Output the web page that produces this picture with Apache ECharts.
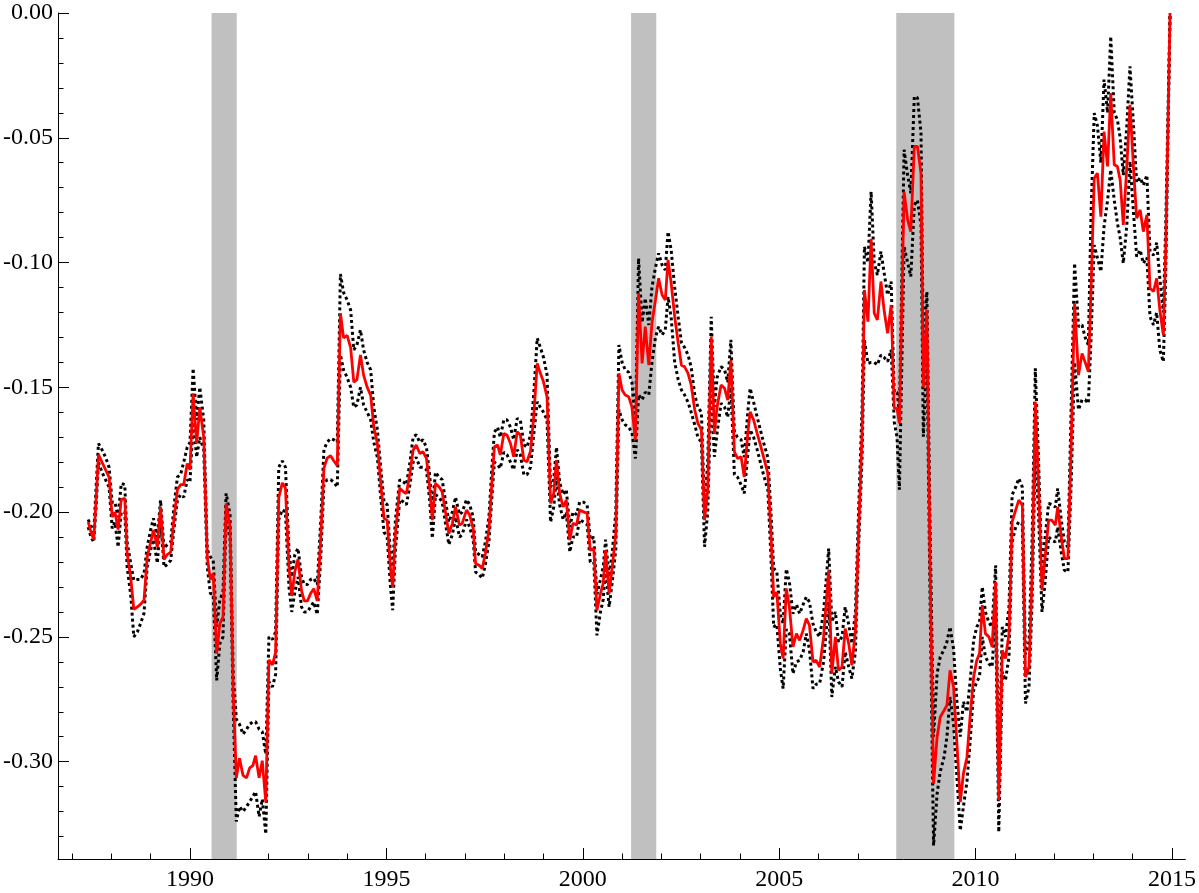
<!DOCTYPE html>
<html>
<head>
<meta charset="utf-8">
<title>chart</title>
<script src="https://cdn.jsdelivr.net/npm/echarts@6/dist/echarts.min.js"></script>
<style>
  html, body { margin: 0; padding: 0; background: #fff; }
  #chart { width: 1199px; height: 893px; }
</style>
</head>
<body>
<div id="chart"></div>
<script>
// decimal years, one row per calendar year
const years = [
  1987.41, 1987.48, 1987.55, 1987.61, 1987.67, 1987.76, 1987.85, 1987.94,
  1988.02, 1988.09, 1988.17, 1988.25, 1988.34, 1988.40, 1988.49, 1988.57, 1988.66, 1988.74, 1988.83, 1988.91,
  1989.00, 1989.07, 1989.17, 1989.25, 1989.34, 1989.42, 1989.51, 1989.59, 1989.68, 1989.76, 1989.84, 1989.93,
  1990.00, 1990.08, 1990.17, 1990.25, 1990.35, 1990.44, 1990.52, 1990.59, 1990.68, 1990.76, 1990.84, 1990.92,
  1991.02, 1991.10, 1991.18, 1991.26, 1991.35, 1991.44, 1991.52, 1991.60, 1991.67, 1991.76, 1991.84, 1991.93,
  1992.01, 1992.10, 1992.18, 1992.26, 1992.35, 1992.43, 1992.52, 1992.59, 1992.67, 1992.75, 1992.84, 1992.91,
  1992.99, 1993.07, 1993.15, 1993.24, 1993.33, 1993.41, 1993.49, 1993.58, 1993.66, 1993.75, 1993.83, 1993.91,
  1994.00, 1994.09, 1994.17, 1994.25, 1994.34, 1994.42, 1994.51, 1994.60, 1994.68, 1994.77, 1994.85, 1994.94,
  1995.02, 1995.10, 1995.16, 1995.23, 1995.34, 1995.44, 1995.51, 1995.60, 1995.68, 1995.76, 1995.85, 1995.93,
  1996.02, 1996.10, 1996.17, 1996.25, 1996.34, 1996.42, 1996.51, 1996.59, 1996.68, 1996.76, 1996.86, 1996.93,
  1997.04, 1997.12, 1997.21, 1997.27, 1997.36, 1997.44, 1997.52, 1997.61, 1997.69, 1997.75, 1997.83, 1997.90,
  1997.99, 1998.07, 1998.16, 1998.24, 1998.33, 1998.41, 1998.50, 1998.58, 1998.67, 1998.75, 1998.84, 1998.92,
  1999.00, 1999.09, 1999.18, 1999.26, 1999.33, 1999.41, 1999.50, 1999.58, 1999.67, 1999.75, 1999.84, 1999.92,
  2000.02, 2000.11, 2000.19, 2000.28, 2000.36, 2000.45, 2000.52, 2000.58, 2000.67, 2000.75, 2000.84, 2000.92,
  2001.00, 2001.08, 2001.17, 2001.25, 2001.34, 2001.42, 2001.51, 2001.59, 2001.68, 2001.76, 2001.85, 2001.93,
  2002.02, 2002.10, 2002.17, 2002.25, 2002.34, 2002.43, 2002.51, 2002.59, 2002.68, 2002.76, 2002.85, 2002.93,
  2003.02, 2003.10, 2003.18, 2003.27, 2003.35, 2003.42, 2003.52, 2003.61, 2003.69, 2003.77, 2003.86, 2003.94,
  2004.03, 2004.11, 2004.20, 2004.26, 2004.35, 2004.44, 2004.52, 2004.60, 2004.71, 2004.79, 2004.86, 2004.94,
  2005.03, 2005.10, 2005.18, 2005.26, 2005.35, 2005.44, 2005.52, 2005.61, 2005.69, 2005.77, 2005.86, 2005.94,
  2006.03, 2006.13, 2006.26, 2006.34, 2006.43, 2006.51, 2006.60, 2006.68, 2006.77, 2006.85, 2006.94,
  2007.02, 2007.11, 2007.17, 2007.26, 2007.34, 2007.42, 2007.50, 2007.59, 2007.67, 2007.76, 2007.85, 2007.93,
  2008.00, 2008.06, 2008.18, 2008.27, 2008.35, 2008.44, 2008.52, 2008.61, 2008.67, 2008.76, 2008.84, 2008.93,
  2009.02, 2009.10, 2009.20, 2009.27, 2009.35, 2009.44, 2009.52, 2009.61, 2009.69, 2009.78, 2009.86, 2009.95,
  2010.03, 2010.10, 2010.17, 2010.25, 2010.34, 2010.42, 2010.51, 2010.59, 2010.68, 2010.76, 2010.85, 2010.93,
  2011.02, 2011.10, 2011.19, 2011.27, 2011.36, 2011.44, 2011.52, 2011.60, 2011.69, 2011.77, 2011.86, 2011.94,
  2012.03, 2012.09, 2012.18, 2012.26, 2012.35, 2012.43, 2012.52, 2012.62, 2012.71, 2012.79, 2012.87, 2012.94,
  2013.02, 2013.10, 2013.19, 2013.27, 2013.36, 2013.44, 2013.53, 2013.61, 2013.68, 2013.76, 2013.85, 2013.93,
  2014.02, 2014.10, 2014.19, 2014.27, 2014.36, 2014.44, 2014.53, 2014.61, 2014.69, 2014.78, 2014.84, 2014.95
]

// red line
const estimate = [
  -0.204, -0.208, -0.211, -0.195, -0.177, -0.180, -0.183, -0.186,
  -0.202, -0.200, -0.207, -0.195, -0.1945, -0.2166, -0.226, -0.239, -0.238, -0.237, -0.2353, -0.218,
  -0.212, -0.2072, -0.214, -0.198, -0.219, -0.217, -0.216, -0.203, -0.191, -0.189, -0.189, -0.1805,
  -0.183, -0.1524, -0.1725, -0.158, -0.170, -0.218, -0.227, -0.2246, -0.2567, -0.2447, -0.242, -0.1965,
  -0.2059, -0.272, -0.3065, -0.2986, -0.3055, -0.3065, -0.3025, -0.3016, -0.2976, -0.3065, -0.2996, -0.3163,
  -0.2592, -0.2612, -0.2562, -0.1942, -0.1883, -0.1903, -0.2218, -0.2336, -0.2238, -0.2188, -0.2316, -0.2356,
  -0.2356, -0.2326, -0.2307, -0.2356, -0.210, -0.1824, -0.1784, -0.1774, -0.1794, -0.1814, -0.1203, -0.1302,
  -0.1292, -0.1341, -0.1479, -0.1469, -0.1370, -0.1451, -0.1499, -0.1531, -0.1658, -0.1725, -0.1872, -0.2025,
  -0.2032, -0.2220, -0.2300, -0.2086, -0.1905, -0.1919, -0.1925, -0.1845, -0.1752, -0.1731, -0.1765, -0.1758,
  -0.1785, -0.1899, -0.2032, -0.1885, -0.1898, -0.1919, -0.2005, -0.2086, -0.2045, -0.1979, -0.2052, -0.2045,
  -0.1992, -0.2012, -0.2066, -0.2206, -0.2213, -0.2226, -0.2166, -0.2072, -0.1872, -0.1738, -0.1731, -0.1771,
  -0.1685, -0.1691, -0.1725, -0.1778, -0.1678, -0.1691, -0.1792, -0.1798, -0.1755, -0.1618, -0.1404, -0.1444,
  -0.1478, -0.1538, -0.1965, -0.1925, -0.1792, -0.1925, -0.1979, -0.1952, -0.2112, -0.2045, -0.2052, -0.1992,
  -0.1999, -0.2005, -0.2153, -0.2146, -0.2393, -0.2326, -0.2286, -0.2153, -0.2326, -0.2220, -0.2086, -0.1444,
  -0.1511, -0.1531, -0.1538, -0.1578, -0.1711, -0.1123, -0.1404, -0.1257, -0.1411, -0.1243, -0.1150, -0.1063,
  -0.1130, -0.1150, -0.0989, -0.1083, -0.1217, -0.1324, -0.1411, -0.1417, -0.1444, -0.1491, -0.1591, -0.1644,
  -0.1671, -0.2032, -0.1912, -0.1297, -0.1685, -0.1578, -0.1491, -0.1504, -0.1551, -0.1391, -0.1758, -0.1785,
  -0.1778, -0.1859, -0.1685, -0.1598, -0.1631, -0.1685, -0.1730, -0.1778, -0.1845, -0.2086, -0.2340, -0.2320,
  -0.2527, -0.2587, -0.2306, -0.2380, -0.2540, -0.2487, -0.2514, -0.2473, -0.2427, -0.2453, -0.2600, -0.2594,
  -0.2621, -0.2500, -0.2233, -0.2647, -0.2500, -0.2634, -0.2621, -0.2467, -0.2527, -0.2614, -0.2473,
  -0.2086, -0.1685, -0.1110, -0.1237, -0.0905, -0.1203, -0.1230, -0.1076, -0.1190, -0.1283, -0.1170, -0.1584,
  -0.1584, -0.1644, -0.0716, -0.0829, -0.0876, -0.0535, -0.0535, -0.0642, -0.150, -0.119, -0.220, -0.3088,
  -0.2901, -0.2821, -0.2794, -0.2774, -0.2634, -0.2701, -0.2915, -0.3162, -0.3048, -0.2982, -0.282, -0.2661,
  -0.2594, -0.2567, -0.2373, -0.2487, -0.2500, -0.2540, -0.2280, -0.3155, -0.2554, -0.2587, -0.2487, -0.2039,
  -0.1992, -0.1952, -0.1972, -0.2661, -0.2621, -0.2246, -0.1558, -0.1872, -0.2313, -0.2179, -0.2032, -0.2032,
  -0.2052, -0.1979, -0.2099, -0.2186, -0.2186, -0.175, -0.1163, -0.1451, -0.1364, -0.140, -0.1437, -0.110,
  -0.0662, -0.0642, -0.0816, -0.0475, -0.0615, -0.0321, -0.0608, -0.0615, -0.0669, -0.0849, -0.0615, -0.0368,
  -0.0622, -0.0822, -0.0789, -0.0876, -0.0809, -0.1103, -0.1116, -0.1063, -0.1190, -0.1290, -0.095, 0.0
]

// upper dotted band
const upperBand = [
  -0.203, -0.206, -0.208, -0.190, -0.1725, -0.175, -0.178, -0.182,
  -0.196, -0.196, -0.202, -0.1885, -0.189, -0.212, -0.2205, -0.2273, -0.227, -0.227, -0.2246, -0.214,
  -0.207, -0.2025, -0.210, -0.1952, -0.2146, -0.213, -0.212, -0.198, -0.1859, -0.185, -0.180, -0.174,
  -0.172, -0.1424, -0.163, -0.150, -0.163, -0.215, -0.218, -0.219, -0.246, -0.2353, -0.232, -0.1925,
  -0.201, -0.265, -0.283, -0.285, -0.289, -0.287, -0.285, -0.284, -0.284, -0.287, -0.288, -0.297,
  -0.250, -0.251, -0.248, -0.182, -0.1795, -0.182, -0.215, -0.226, -0.217, -0.2145, -0.226, -0.229,
  -0.229, -0.227, -0.2265, -0.229, -0.203, -0.175, -0.172, -0.1705, -0.171, -0.172, -0.1046, -0.112,
  -0.115, -0.119, -0.135, -0.133, -0.127, -0.135, -0.140, -0.143, -0.158, -0.167, -0.181, -0.196,
  -0.197, -0.216, -0.222, -0.203, -0.187, -0.188, -0.189, -0.180, -0.170, -0.169, -0.172, -0.171,
  -0.174, -0.185, -0.198, -0.184, -0.186, -0.187, -0.196, -0.204, -0.200, -0.194, -0.201, -0.200,
  -0.195, -0.197, -0.202, -0.216, -0.217, -0.218, -0.212, -0.202, -0.181, -0.168, -0.166, -0.170,
  -0.163, -0.163, -0.166, -0.171, -0.1625, -0.163, -0.173, -0.174, -0.169, -0.153, -0.1303, -0.134,
  -0.138, -0.145, -0.190, -0.187, -0.174, -0.188, -0.193, -0.191, -0.206, -0.200, -0.201, -0.196,
  -0.196, -0.197, -0.211, -0.210, -0.233, -0.227, -0.222, -0.211, -0.226, -0.216, -0.200, -0.133,
  -0.140, -0.143, -0.144, -0.148, -0.165, -0.0983, -0.124, -0.1143, -0.125, -0.110, -0.102, -0.0963,
  -0.101, -0.103, -0.0876, -0.095, -0.110, -0.122, -0.132, -0.134, -0.137, -0.142, -0.153, -0.158,
  -0.160, -0.198, -0.180, -0.1217, -0.1578, -0.146, -0.1417, -0.143, -0.148, -0.131, -0.168, -0.170,
  -0.171, -0.178, -0.160, -0.1504, -0.156, -0.162, -0.167, -0.172, -0.178, -0.200, -0.2225, -0.224,
  -0.241, -0.2447, -0.2228, -0.228, -0.2407, -0.237, -0.2407, -0.237, -0.234, -0.236, -0.2447, -0.248,
  -0.250, -0.240, -0.2146, -0.244, -0.240, -0.252, -0.250, -0.238, -0.245, -0.2527, -0.240,
  -0.200, -0.158, -0.0936, -0.100, -0.0716, -0.100, -0.105, -0.0956, -0.104, -0.113, -0.1076, -0.152,
  -0.152, -0.160, -0.0548, -0.065, -0.0722, -0.0334, -0.034, -0.048, -0.135, -0.1117, -0.205, -0.290,
  -0.2647, -0.258, -0.255, -0.252, -0.246, -0.255, -0.275, -0.290, -0.276, -0.280, -0.268, -0.2513,
  -0.246, -0.244, -0.230, -0.240, -0.2443, -0.246, -0.2213, -0.305, -0.246, -0.250, -0.238, -0.193,
  -0.190, -0.1865, -0.190, -0.257, -0.252, -0.210, -0.1424, -0.178, -0.2246, -0.210, -0.1965, -0.197,
  -0.198, -0.1905, -0.203, -0.212, -0.214, -0.160, -0.1003, -0.1257, -0.125, -0.130, -0.133, -0.080,
  -0.0401, -0.045, -0.060, -0.0267, -0.040, -0.0094, -0.040, -0.0428, -0.050, -0.065, -0.045, -0.0214,
  -0.045, -0.068, -0.066, -0.069, -0.065, -0.0956, -0.097, -0.092, -0.1063, -0.120, -0.085, 0.0
]

// lower dotted band
const lowerBand = [
  -0.206, -0.210, -0.212, -0.198, -0.180, -0.184, -0.187, -0.190,
  -0.2065, -0.204, -0.214, -0.200, -0.200, -0.222, -0.233, -0.250, -0.248, -0.2447, -0.2405, -0.222,
  -0.215, -0.211, -0.2205, -0.202, -0.222, -0.221, -0.2193, -0.207, -0.1952, -0.193, -0.194, -0.187,
  -0.188, -0.164, -0.178, -0.170, -0.175, -0.222, -0.2326, -0.233, -0.2674, -0.2527, -0.250, -0.2019,
  -0.211, -0.278, -0.324, -0.318, -0.320, -0.318, -0.316, -0.314, -0.312, -0.322, -0.315, -0.329,
  -0.268, -0.270, -0.265, -0.203, -0.199, -0.200, -0.230, -0.240, -0.232, -0.226, -0.238, -0.240,
  -0.240, -0.238, -0.236, -0.241, -0.218, -0.189, -0.187, -0.187, -0.188, -0.190, -0.137, -0.143,
  -0.146, -0.150, -0.158, -0.157, -0.150, -0.157, -0.160, -0.163, -0.172, -0.178, -0.193, -0.208,
  -0.210, -0.229, -0.2393, -0.215, -0.195, -0.196, -0.197, -0.189, -0.180, -0.178, -0.182, -0.182,
  -0.183, -0.195, -0.2105, -0.193, -0.194, -0.196, -0.205, -0.213, -0.209, -0.202, -0.210, -0.209,
  -0.203, -0.206, -0.211, -0.224, -0.225, -0.2265, -0.221, -0.212, -0.193, -0.180, -0.181, -0.1825,
  -0.176, -0.177, -0.180, -0.183, -0.175, -0.177, -0.185, -0.185, -0.182, -0.169, -0.1558, -0.158,
  -0.160, -0.163, -0.204, -0.198, -0.186, -0.197, -0.203, -0.200, -0.216, -0.210, -0.210, -0.203,
  -0.204, -0.205, -0.220, -0.220, -0.2494, -0.240, -0.235, -0.222, -0.238, -0.228, -0.215, -0.159,
  -0.163, -0.165, -0.166, -0.168, -0.1785, -0.153, -0.155, -0.152, -0.153, -0.140, -0.130, -0.1257,
  -0.129, -0.127, -0.1137, -0.122, -0.140, -0.147, -0.151, -0.153, -0.156, -0.160, -0.165, -0.170,
  -0.172, -0.2139, -0.200, -0.150, -0.1778, -0.168, -0.1564, -0.158, -0.162, -0.150, -0.185, -0.186,
  -0.189, -0.1925, -0.177, -0.167, -0.170, -0.175, -0.180, -0.185, -0.191, -0.218, -0.246, -0.245,
  -0.263, -0.2707, -0.247, -0.2487, -0.2647, -0.260, -0.2594, -0.256, -0.2487, -0.255, -0.2707, -0.269,
  -0.2687, -0.260, -0.236, -0.2741, -0.262, -0.268, -0.270, -0.256, -0.262, -0.2667, -0.256,
  -0.215, -0.178, -0.131, -0.1404, -0.140, -0.140, -0.141, -0.137, -0.138, -0.1397, -0.135, -0.164,
  -0.170, -0.191, -0.0936, -0.100, -0.1056, -0.0769, -0.075, -0.085, -0.1698, -0.135, -0.235, -0.3336,
  -0.3128, -0.304, -0.298, -0.290, -0.2741, -0.285, -0.305, -0.3276, -0.318, -0.308, -0.292, -0.2714,
  -0.268, -0.266, -0.250, -0.258, -0.2607, -0.262, -0.240, -0.3282, -0.264, -0.2674, -0.258, -0.212,
  -0.206, -0.2039, -0.205, -0.2767, -0.270, -0.235, -0.1751, -0.200, -0.240, -0.228, -0.210, -0.2112,
  -0.212, -0.206, -0.216, -0.2233, -0.224, -0.190, -0.140, -0.159, -0.155, -0.155, -0.1564, -0.130,
  -0.093, -0.098, -0.1036, -0.0856, -0.075, -0.0628, -0.075, -0.0842, -0.090, -0.1003, -0.085, -0.0595,
  -0.080, -0.0976, -0.095, -0.1003, -0.098, -0.1217, -0.125, -0.120, -0.135, -0.1397, -0.105, 0.0
]

// shaded recessions [start, end]
const recessions = [[1990.55, 1991.19], [2001.23, 2001.87], [2007.98, 2009.46]]

const yearLabels = [1990, 1995, 2000, 2005, 2010, 2015]
const yearTicks = [1987, 1988, 1989, 1990, 1991, 1992, 1993, 1994, 1995, 1996, 1997, 1998, 1999, 2000,
  2001, 2002, 2003, 2004, 2005, 2006, 2007, 2008, 2009, 2010, 2011, 2012, 2013, 2014, 2015]
const valueLabels = [0, -0.05, -0.10, -0.15, -0.20, -0.25, -0.30]
const valueTicks = [0, -0.01, -0.02, -0.03, -0.04, -0.05, -0.06, -0.07, -0.08, -0.09, -0.10, -0.11,
  -0.12, -0.13, -0.14, -0.15, -0.16, -0.17, -0.18, -0.19, -0.20, -0.21, -0.22, -0.23, -0.24, -0.25,
  -0.26, -0.27, -0.28, -0.29, -0.30, -0.31, -0.32, -0.33]

const font = 'Liberation Serif'
const xMin = 1986.64
const xMax = 2015.34
const yMin = -0.339
const yMax = 0

const pairs = arr => years.map((y, i) => [y, arr[i]])

let myChart = echarts.init(document.getElementById('chart'), null, { renderer: 'canvas' })

// axis line must stay on the grid edge, not at zero
const axisLine = { show: true, onZero: false, lineStyle: { color: '#000', width: 1 } }

myChart.setOption({
  animation: false,
  backgroundColor: '#fff',
  grid: { left: 58, right: 13, top: 13, bottom: 34, containLabel: false },
  xAxis: [
    {
      type: 'value', min: xMin, max: xMax, position: 'bottom',
      axisLine: axisLine,
      splitLine: { show: false },
      axisTick: { show: true, inside: true, length: 11, lineStyle: { color: '#000' }, customValues: yearLabels },
      axisLabel: { show: true, customValues: yearLabels, margin: 9, color: '#000', fontFamily: font, fontSize: 24,
        formatter: v => String(Math.round(v)) }
    },
    {
      // minor yearly ticks
      type: 'value', min: xMin, max: xMax, position: 'bottom',
      axisLine: { show: false, onZero: false },
      splitLine: { show: false },
      axisTick: { show: true, inside: true, length: 5.5, lineStyle: { color: '#000' }, customValues: yearTicks },
      axisLabel: { show: false }
    }
  ],
  yAxis: [
    {
      type: 'value', min: yMin, max: yMax, position: 'left',
      axisLine: axisLine,
      splitLine: { show: false },
      axisTick: { show: true, inside: true, length: 11, lineStyle: { color: '#000' }, customValues: valueLabels },
      axisLabel: { show: true, customValues: valueLabels, margin: 5, color: '#000', fontFamily: font, fontSize: 24,
        formatter: v => v.toFixed(2) }
    },
    {
      // minor ticks every 0.01
      type: 'value', min: yMin, max: yMax, position: 'left',
      axisLine: { show: false, onZero: false },
      splitLine: { show: false },
      axisTick: { show: true, inside: true, length: 5.5, lineStyle: { color: '#000' }, customValues: valueTicks },
      axisLabel: { show: false }
    }
  ],
  series: [
    {
      name: 'recessions',
      type: 'line',
      data: [],
      z: 1,
      silent: true,
      markArea: {
        silent: true,
        itemStyle: { color: '#c0c0c0', opacity: 1 },
        data: recessions.map(r => [{ xAxis: r[0] }, { xAxis: r[1] }])
      }
    },
    {
      name: 'upper',
      type: 'line',
      data: pairs(upperBand),
      showSymbol: false,
      z: 3,
      lineStyle: { color: '#000', width: 3, type: 'dotted' }
    },
    {
      name: 'lower',
      type: 'line',
      data: pairs(lowerBand),
      showSymbol: false,
      z: 3,
      lineStyle: { color: '#000', width: 3, type: 'dotted' }
    },
    {
      name: 'estimate',
      type: 'line',
      data: pairs(estimate),
      showSymbol: false,
      z: 4,
      lineStyle: { color: '#ff0000', width: 2.8 }
    }
  ]
})
</script>
</body>
</html>
